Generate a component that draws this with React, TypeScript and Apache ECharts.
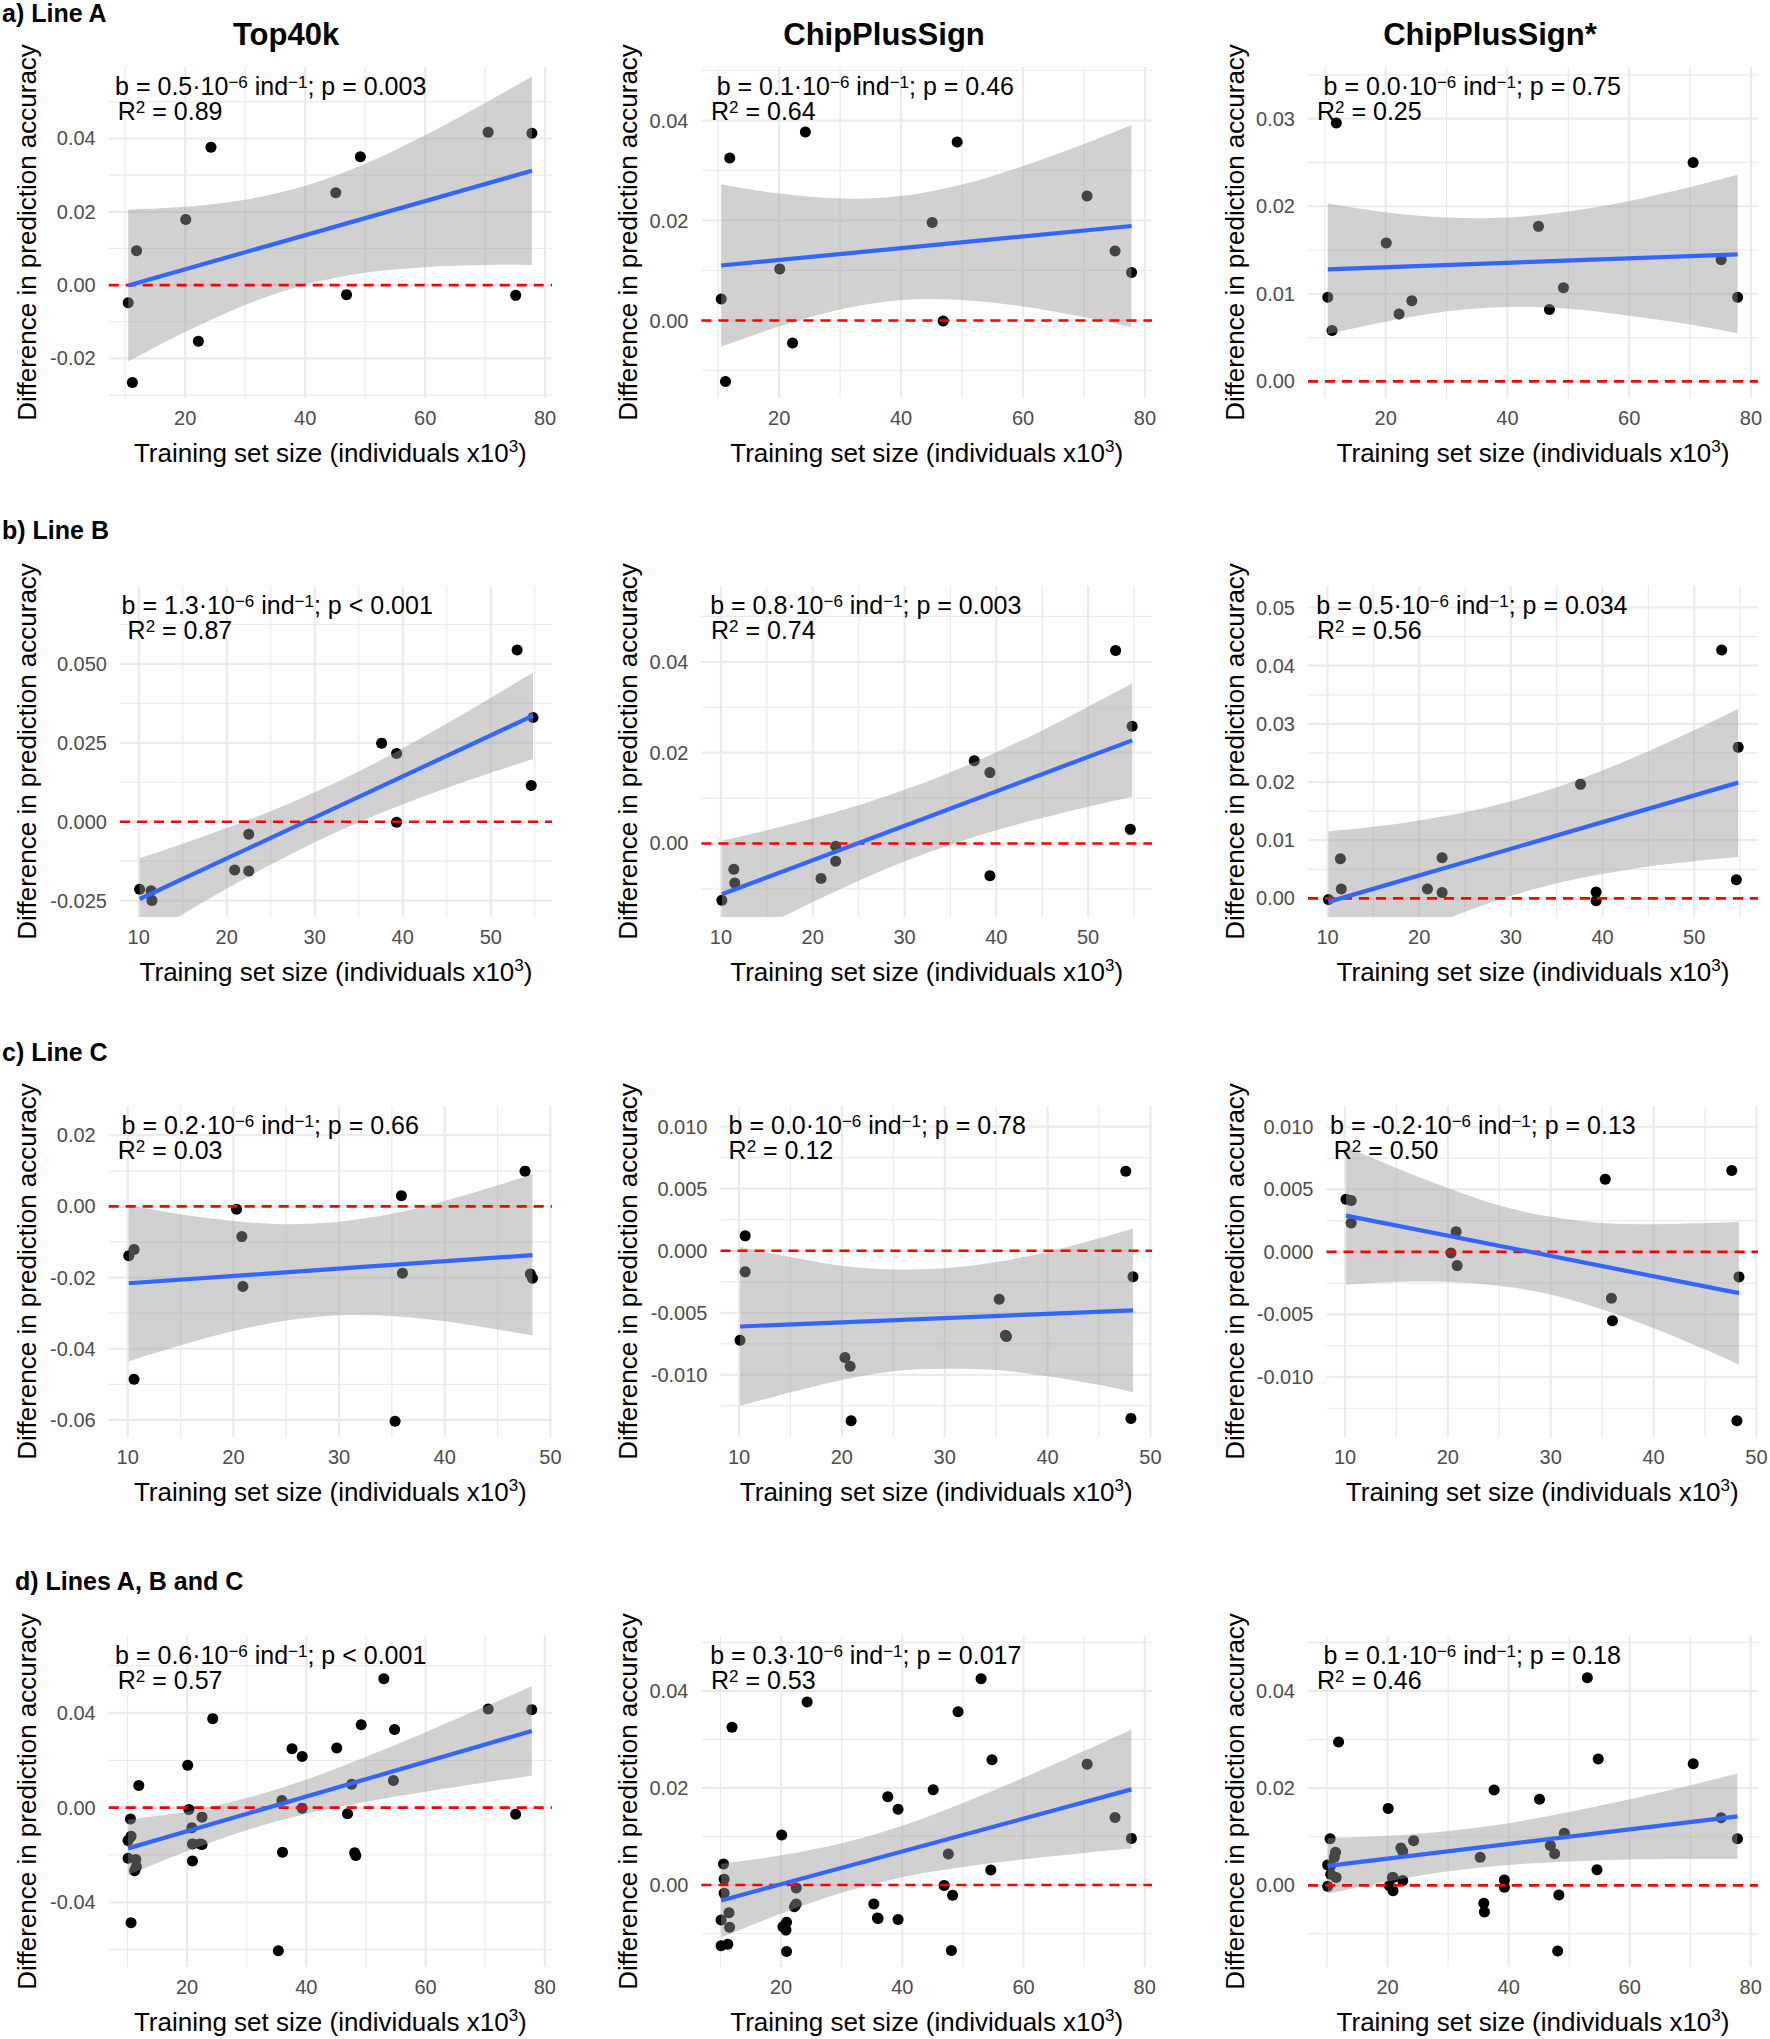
import { useEffect, useRef } from "react";
import * as echarts from "echarts";

const FONT = "'Liberation Sans', Arial, Helvetica, sans-serif";

// ---------------- text ----------------
const columnTitles = ["Top40k", "ChipPlusSign", "ChipPlusSign*"];
const rowLabels = ["a) Line A", "b) Line B", "c) Line C", "d) Lines A, B and C"];
const yTitle = "Difference in prediction accuracy";
const xTitle = "Training set size (individuals x10{sup|3})";

// ---------------- data: training set size (x10^3) ----------------
const lineA_x = [10.5, 11.2, 11.9, 20.1, 22.2, 24.3, 45.1, 46.9, 49.2, 70.5, 75.1, 77.8];
const lineB_x = [10.1, 11.4, 11.5, 20.9, 22.5, 22.5, 37.6, 39.3, 39.3, 53.0, 54.8, 54.6];
const lineC_x = [10.1, 10.6, 10.6, 20.3, 20.8, 20.9, 35.3, 35.9, 36.0, 47.6, 48.1, 48.3];

// ---------------- data: difference in prediction accuracy ----------------
const lineA_top40k = [-0.0048, -0.0266, 0.0094, 0.0179, -0.0153, 0.0376, 0.0252, -0.0026, 0.0350, 0.0417, -0.0028, 0.0414];
const lineA_chip = [0.0043, -0.0122, 0.0325, 0.0103, -0.0045, 0.0377, 0.0196, -0.0001, 0.0357, 0.0249, 0.0139, 0.0096];
const lineA_chipStar = [0.0096, 0.0058, 0.0295, 0.0158, 0.0077, 0.0092, 0.0177, 0.0082, 0.0107, 0.0250, 0.0139, 0.0096];

const lineB_top40k = [-0.0214, -0.0219, -0.0250, -0.0153, -0.0040, -0.0156, 0.0249, 0.0216, -0.0002, 0.0544, 0.0330, 0.0115];
const lineB_chip = [-0.0125, -0.0057, -0.0087, -0.0077, -0.0006, -0.0039, 0.0182, 0.0156, -0.0071, 0.0425, 0.0258, 0.0031];
const lineB_chipStar = [-0.0002, 0.0068, 0.0016, 0.0016, 0.0070, 0.0010, 0.0196, 0.0011, -0.0004, 0.0427, 0.0260, 0.0032];

const lineC_top40k = [-0.0139, -0.0121, -0.0486, -0.0008, -0.0085, -0.0225, -0.0604, 0.0030, -0.0188, 0.0099, -0.0190, -0.0202];
const lineC_chip = [-0.0072, 0.0012, -0.0017, -0.0086, -0.0093, -0.0137, -0.0039, -0.0068, -0.0069, 0.0064, -0.0135, -0.0021];
const lineC_chipStar = [0.0042, 0.0041, 0.0023, -0.0001, 0.0016, -0.0011, 0.0058, -0.0037, -0.0055, 0.0065, -0.0135, -0.0020];

// ---------------- regression statistics ----------------
const slopes = [["0.5", "0.1", "0.0"], ["1.3", "0.8", "0.5"], ["0.2", "0.0", "-0.2"], ["0.6", "0.3", "0.1"]];
const pValues = [["= 0.003", "= 0.46", "= 0.75"], ["< 0.001", "= 0.003", "= 0.034"], ["= 0.66", "= 0.78", "= 0.13"], ["< 0.001", "= 0.017", "= 0.18"]];
const r2Values = [["0.89", "0.64", "0.25"], ["0.87", "0.74", "0.56"], ["0.03", "0.12", "0.50"], ["0.57", "0.53", "0.46"]];

// ---------------- fitted lines (read at the ends) ----------------
const fitX_A = [10.5, 77.8];
const fitX_B = [10.1, 54.8];
const fitX_C = [10.1, 48.3];
const fitX_D = [10.1, 77.8];
const fitY_A = [[-0.0001, 0.0312], [0.0110, 0.0189], [0.0128, 0.0145]];
const fitY_B = [[-0.0245, 0.0336], [-0.0112, 0.0227], [-0.0006, 0.0199]];
const fitY_C = [[-0.0216, -0.0137], [-0.0061, -0.0048], [0.0029, -0.0033]];
const fitY_D = [[-0.0172, 0.0324], [-0.0032, 0.0197], [0.0040, 0.0142]];

// ---------------- confidence bands (read along x) ----------------
const bandX_A = [10.5, 20, 30, 40, 50, 60, 70, 77.8];
const bandLo_A = [
  [-0.0208, -0.0128, -0.0054, 0.0001, 0.0034, 0.0049, 0.0055, 0.0055],
  [-0.0052, -0.0012, 0.0022, 0.0041, 0.0041, 0.0028, 0.0007, -0.0013],
  [0.0054, 0.0068, 0.0080, 0.0085, 0.0083, 0.0075, 0.0065, 0.0055],
];
const bandHi_A = [
  [0.0206, 0.0214, 0.0233, 0.0271, 0.0331, 0.0409, 0.0497, 0.0569],
  [0.0272, 0.0254, 0.0244, 0.0249, 0.0272, 0.0309, 0.0353, 0.0391],
  [0.0203, 0.0193, 0.0187, 0.0187, 0.0194, 0.0206, 0.0222, 0.0236],
];
const bandX_B = [10.1, 15, 20, 25, 30, 35, 40, 45, 50, 54.8];
const bandLo_B = [
  [-0.0374, -0.0293, -0.0212, -0.0136, -0.0065, -0.0002, 0.0055, 0.0107, 0.0155, 0.0199],
  [-0.0231, -0.0179, -0.0129, -0.0082, -0.0040, -0.0003, 0.0029, 0.0056, 0.0081, 0.0103],
  [-0.0127, -0.0090, -0.0055, -0.0023, 0.0004, 0.0026, 0.0042, 0.0055, 0.0064, 0.0071],
];
const bandHi_B = [
  [-0.0116, -0.0070, -0.0020, 0.0033, 0.0093, 0.0159, 0.0233, 0.0311, 0.0393, 0.0473],
  [0.0006, 0.0029, 0.0055, 0.0084, 0.0118, 0.0157, 0.0201, 0.0249, 0.0301, 0.0352],
  [0.0115, 0.0123, 0.0134, 0.0148, 0.0167, 0.0191, 0.0220, 0.0253, 0.0289, 0.0326],
];
const bandX_C = [10.1, 15, 20, 25, 30, 35, 40, 45, 48.3];
const bandLo_C = [
  [-0.0435, -0.0390, -0.0350, -0.0321, -0.0306, -0.0308, -0.0323, -0.0346, -0.0363],
  [-0.0125, -0.0114, -0.0104, -0.0097, -0.0095, -0.0096, -0.0101, -0.0108, -0.0114],
  [-0.0026, -0.0024, -0.0024, -0.0027, -0.0034, -0.0046, -0.0061, -0.0078, -0.0090],
];
const bandHi_C = [
  [0.0003, -0.0022, -0.0041, -0.0050, -0.0043, -0.0021, 0.0015, 0.0059, 0.0090],
  [0.0003, -0.0005, -0.0012, -0.0015, -0.0014, -0.0009, -0.0001, 0.0010, 0.0018],
  [0.0084, 0.0067, 0.0051, 0.0037, 0.0028, 0.0023, 0.0022, 0.0023, 0.0024],
];
const bandX_D = [10.1, 20, 30, 40, 50, 60, 70, 77.8];
const bandLo_D = [
  [-0.0284, -0.0184, -0.0095, -0.0026, 0.0025, 0.0067, 0.0106, 0.0135],
  [-0.0108, -0.0059, -0.0016, 0.0016, 0.0037, 0.0053, 0.0066, 0.0075],
  [-0.0017, 0.0008, 0.0029, 0.0042, 0.0049, 0.0053, 0.0054, 0.0054],
];
const bandHi_D = [
  [-0.0050, -0.0016, 0.0041, 0.0119, 0.0215, 0.0319, 0.0427, 0.0513],
  [0.0043, 0.0061, 0.0086, 0.0122, 0.0169, 0.0221, 0.0276, 0.0320],
  [0.0097, 0.0102, 0.0112, 0.0128, 0.0151, 0.0177, 0.0206, 0.0230],
];

// ---------------- axis scales ----------------
const xRanges = [[7.25, 81.15], [7.87, 56.96], [8.2, 50.15], [6.85, 81.2]];
const xMajorTicks = [[20, 40, 60, 80], [10, 20, 30, 40, 50], [10, 20, 30, 40, 50], [20, 40, 60, 80]];
const xMinorTicks = [[10, 30, 50, 70], [15, 25, 35, 45, 55], [15, 25, 35, 45], [10, 30, 50, 70]];
const yRanges = [
  [[-0.0308, 0.0595], [-0.0155, 0.0507], [-0.0019, 0.0359]],
  [[-0.0302, 0.0747], [-0.0162, 0.0567], [-0.0032, 0.0537]],
  [[-0.0648, 0.0282], [-0.0150, 0.01166], [-0.0148, 0.01166]],
  [[-0.0673, 0.0725], [-0.0169, 0.0513], [-0.0168, 0.0513]],
];
const yMajorTicks = [
  [[-0.02, 0, 0.02, 0.04], [0, 0.02, 0.04], [0, 0.01, 0.02, 0.03]],
  [[-0.025, 0, 0.025, 0.05], [0, 0.02, 0.04], [0, 0.01, 0.02, 0.03, 0.04, 0.05]],
  [[-0.06, -0.04, -0.02, 0, 0.02], [-0.01, -0.005, 0, 0.005, 0.01], [-0.01, -0.005, 0, 0.005, 0.01]],
  [[-0.04, 0, 0.04], [0, 0.02, 0.04], [0, 0.02, 0.04]],
];
const yMinorTicks = [
  [[-0.03, -0.01, 0.01, 0.03, 0.05], [-0.01, 0.01, 0.03, 0.05], [0.005, 0.015, 0.025, 0.035]],
  [[-0.0125, 0.0125, 0.0375, 0.0625], [-0.01, 0.01, 0.03, 0.05], [0.005, 0.015, 0.025, 0.035, 0.045]],
  [[-0.05, -0.03, -0.01, 0.01], [-0.0125, -0.0075, -0.0025, 0.0025, 0.0075], [-0.0125, -0.0075, -0.0025, 0.0025, 0.0075]],
  [[-0.06, -0.02, 0.02, 0.06], [-0.01, 0.01, 0.03, 0.05], [-0.01, 0.01, 0.03, 0.05]],
];
const yDecimals = [[2, 2, 2], [3, 2, 2], [2, 3, 3], [2, 2, 2]];

// ---------------- layout (pixels) ----------------
const W = 1770;
const H = 2039;
const rowTop = [67, 586, 1106, 1636];
const panelH = 331;
const panelLeft = [
  [108.7, 701.4, 1308],
  [120, 701.4, 1308],
  [108.7, 720.5, 1326.5],
  [108.7, 701.4, 1308],
];
const panelRight = [552, 1152, 1758];
const yTitleCenterX = [27, 627.6, 1234.5];
const titleCenterX = [286, 884, 1490];
const rowLabelPos = [[2, 13], [2, 530], [2, 1051.5], [15, 1580.7]];
const annX1 = [[115.1, 716.7, 1323.6], [121.6, 710.2, 1316.3], [121.6, 728.6, 1330.1], [115.1, 710.2, 1323.6]];
const annX2 = [[117.8, 711, 1317], [127.6, 711, 1317], [117.8, 728.6, 1333.8], [117.8, 711, 1317]];

const GRID_COLOR = "#EBEBEB";
const BAND_COLOR = "rgba(153,153,153,0.45)";
const FIT_COLOR = "#3366FF";

// smooth (Catmull-Rom) path segments through pixel points
function curveSegments(pts: number[][]): string {
  let d = "";
  for (let i = 0; i < pts.length - 1; i++) {
    const p0 = pts[i - 1] || pts[i];
    const p1 = pts[i];
    const p2 = pts[i + 1];
    const p3 = pts[i + 2] || pts[i + 1];
    const c1x = p1[0] + (p2[0] - p0[0]) / 6;
    const c1y = p1[1] + (p2[1] - p0[1]) / 6;
    const c2x = p2[0] - (p3[0] - p1[0]) / 6;
    const c2y = p2[1] - (p3[1] - p1[1]) / 6;
    d += ` C${c1x.toFixed(2)} ${c1y.toFixed(2)} ${c2x.toFixed(2)} ${c2y.toFixed(2)} ${p2[0].toFixed(2)} ${p2[1].toFixed(2)}`;
  }
  return d;
}

function buildOption() {
  const xs = [lineA_x, lineB_x, lineC_x, lineA_x.concat(lineB_x, lineC_x)];
  const ys = [
    [lineA_top40k, lineA_chip, lineA_chipStar],
    [lineB_top40k, lineB_chip, lineB_chipStar],
    [lineC_top40k, lineC_chip, lineC_chipStar],
    [
      lineA_top40k.concat(lineB_top40k, lineC_top40k),
      lineA_chip.concat(lineB_chip, lineC_chip),
      lineA_chipStar.concat(lineB_chipStar, lineC_chipStar),
    ],
  ];
  const fitXs = [fitX_A, fitX_B, fitX_C, fitX_D];
  const fitYs = [fitY_A, fitY_B, fitY_C, fitY_D];
  const bandXs = [bandX_A, bandX_B, bandX_C, bandX_D];
  const bandLos = [bandLo_A, bandLo_B, bandLo_C, bandLo_D];
  const bandHis = [bandHi_A, bandHi_B, bandHi_C, bandHi_D];

  const grids: any[] = [];
  const xAxes: any[] = [];
  const yAxes: any[] = [];
  const series: any[] = [];
  const graphics: any[] = [];

  const supRich = { fontSize: 17, lineHeight: 3, verticalAlign: "top", fontFamily: FONT, fill: "#000" };

  for (let r = 0; r < 4; r++) {
    for (let c = 0; c < 3; c++) {
      const i = r * 3 + c;
      const left = panelLeft[r][c];
      const top = rowTop[r];
      const xr = xRanges[r];
      const yr = yRanges[r][c];
      const dec = yDecimals[r][c];
      grids.push({ left, top, width: panelRight[c] - left, height: panelH, outerBoundsMode: "none" });
      xAxes.push({
        gridIndex: i,
        type: "value",
        min: xr[0],
        max: xr[1],
        axisLine: { show: false },
        axisTick: { show: false },
        splitLine: { show: false },
        axisLabel: { customValues: xMajorTicks[r], color: "#4D4D4D", fontSize: 20, margin: 10, fontFamily: FONT },
        name: xTitle,
        nameLocation: "middle",
        nameGap: 40,
        nameTextStyle: {
          color: "#000",
          fontSize: 26,
          lineHeight: 30,
          fontFamily: FONT,
          rich: { sup: { fontSize: 17, lineHeight: 12, verticalAlign: "top", color: "#000", fontFamily: FONT } },
        },
      });
      yAxes.push({
        gridIndex: i,
        type: "value",
        min: yr[0],
        max: yr[1],
        axisLine: { show: false },
        axisTick: { show: false },
        splitLine: { show: false },
        axisLabel: {
          customValues: yMajorTicks[r][c],
          color: "#4D4D4D",
          fontSize: 20,
          margin: 13,
          fontFamily: FONT,
          formatter: (v: number) => v.toFixed(dec),
        },
        name: yTitle,
        nameLocation: "middle",
        nameGap: left - yTitleCenterX[c] - 13,
        nameTextStyle: { color: "#000", fontSize: 26, fontFamily: FONT },
      });

      const xMaj = xMajorTicks[r];
      const xMin = xMinorTicks[r];
      const yMaj = yMajorTicks[r][c];
      const yMin = yMinorTicks[r][c];
      // gridlines
      series.push({
        type: "custom",
        xAxisIndex: i,
        yAxisIndex: i,
        silent: true,
        z: 0,
        data: [[xr[0], yr[0]]],
        renderItem: (params: any, api: any) => {
          const cs = params.coordSys;
          const kids: any[] = [];
          const addV = (v: number, w: number) => {
            if (v < xr[0] || v > xr[1]) return;
            const px = api.coord([v, yr[0]])[0];
            kids.push({ type: "line", shape: { x1: px, y1: cs.y, x2: px, y2: cs.y + cs.height }, style: { stroke: GRID_COLOR, lineWidth: w } });
          };
          const addH = (v: number, w: number) => {
            if (v < yr[0] || v > yr[1]) return;
            const py = api.coord([xr[0], v])[1];
            kids.push({ type: "line", shape: { x1: cs.x, y1: py, x2: cs.x + cs.width, y2: py }, style: { stroke: GRID_COLOR, lineWidth: w } });
          };
          xMin.forEach((v) => addV(v, 1.2));
          yMin.forEach((v) => addH(v, 1.2));
          xMaj.forEach((v) => addV(v, 2.2));
          yMaj.forEach((v) => addH(v, 2.2));
          return { type: "group", children: kids };
        },
      });
      // points
      const px = xs[r];
      const py = ys[r][c];
      series.push({
        type: "scatter",
        xAxisIndex: i,
        yAxisIndex: i,
        data: px.map((x, k) => [x, py[k]]),
        symbolSize: 11,
        itemStyle: { color: "#000", opacity: 1 },
        z: 2,
        silent: true,
      });
      // confidence band: smooth closed path through upper and lower edges
      const bx = bandXs[r];
      const lo = bandLos[r][c];
      const hi = bandHis[r][c];
      series.push({
        type: "custom",
        xAxisIndex: i,
        yAxisIndex: i,
        silent: true,
        clip: true,
        z: 3,
        data: [[bx[0], lo[0]]],
        renderItem: (_params: any, api: any) => {
          const up = bx.map((x, k) => api.coord([x, hi[k]]));
          const dn = bx.map((x, k) => api.coord([x, lo[k]])).reverse();
          const d =
            `M${up[0][0].toFixed(2)} ${up[0][1].toFixed(2)}` +
            curveSegments(up) +
            ` L${dn[0][0].toFixed(2)} ${dn[0][1].toFixed(2)}` +
            curveSegments(dn) +
            " Z";
          return { type: "path", shape: { pathData: d }, style: { fill: BAND_COLOR, stroke: "none" } };
        },
      });
      // zero reference line
      series.push({
        type: "line",
        xAxisIndex: i,
        yAxisIndex: i,
        data: [[xr[0], 0], [xr[1], 0]],
        symbol: "none",
        lineStyle: { color: "#FF0000", width: 2.6, type: [10, 7] },
        z: 4,
        silent: true,
      });
      // fitted regression line
      const fx = fitXs[r];
      const fy = fitYs[r][c];
      series.push({
        type: "line",
        xAxisIndex: i,
        yAxisIndex: i,
        data: fx.map((x, k) => [x, fy[k]]),
        symbol: "none",
        lineStyle: { color: FIT_COLOR, width: 4.2 },
        z: 5,
        silent: true,
      });

      // annotation
      graphics.push({
        type: "text",
        x: annX1[r][c],
        y: top + 19,
        z: 20,
        silent: true,
        style: {
          text: "b = " + slopes[r][c] + "·10{sup|−6} ind{sup|−1}; p " + pValues[r][c],
          fontSize: 25,
          fontFamily: FONT,
          fill: "#000",
          align: "left",
          verticalAlign: "middle",
          lineHeight: 24,
          rich: { sup: supRich },
        },
      });
      graphics.push({
        type: "text",
        x: annX2[r][c],
        y: top + 44,
        z: 20,
        silent: true,
        style: {
          text: "R{sup|2} = " + r2Values[r][c],
          fontSize: 25,
          fontFamily: FONT,
          fill: "#000",
          align: "left",
          verticalAlign: "middle",
          lineHeight: 24,
          rich: { sup: supRich },
        },
      });
    }
  }

  columnTitles.forEach((t, c) => {
    graphics.push({
      type: "text",
      x: titleCenterX[c],
      y: 34,
      silent: true,
      style: { text: t, fontSize: 31, fontWeight: "bold", fontFamily: FONT, fill: "#000", align: "center", verticalAlign: "middle" },
    });
  });
  rowLabels.forEach((t, r) => {
    graphics.push({
      type: "text",
      x: rowLabelPos[r][0],
      y: rowLabelPos[r][1],
      silent: true,
      style: { text: t, fontSize: 25, fontWeight: "bold", fontFamily: FONT, fill: "#000", align: "left", verticalAlign: "middle" },
    });
  });

  return {
    animation: false,
    backgroundColor: "#FFFFFF",
    textStyle: { fontFamily: FONT },
    grid: grids,
    xAxis: xAxes,
    yAxis: yAxes,
    series,
    graphic: { elements: graphics },
  };
}

export default function App() {
  const ref = useRef<HTMLDivElement>(null);
  useEffect(() => {
    if (!ref.current) return;
    const chart = echarts.init(ref.current, undefined, { renderer: "svg" });
    chart.setOption(buildOption() as any);
    return () => chart.dispose();
  }, []);
  return <div ref={ref} style={{ position: "absolute", left: 0, top: 0, width: W, height: H, background: "#fff" }} />;
}
